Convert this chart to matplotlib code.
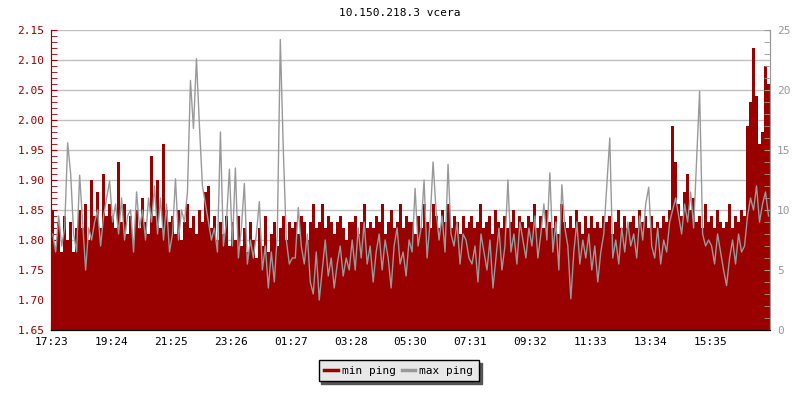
import numpy as np
import matplotlib
matplotlib.use("Agg")
import matplotlib.pyplot as plt
from matplotlib.ticker import MultipleLocator
from matplotlib.lines import Line2D

# time labels on x axis (one every 20 samples)
time_labels = ["17:23", "19:24", "21:25", "23:26", "01:27", "03:28",
               "05:30", "07:31", "09:32", "11:33", "13:34", "15:35"]

# min ping (left axis), 20 samples per label interval
min_ping = [
    1.85, 1.79, 1.83, 1.78, 1.84, 1.80, 1.83, 1.78, 1.82, 1.85, 1.82, 1.86, 1.80, 1.90, 1.84, 1.88, 1.82, 1.91, 1.84, 1.86,
    1.84, 1.82, 1.93, 1.83, 1.86, 1.81, 1.84, 1.80, 1.85, 1.82, 1.87, 1.83, 1.81, 1.94, 1.84, 1.90, 1.82, 1.96, 1.85, 1.83,
    1.84, 1.81, 1.85, 1.80, 1.83, 1.86, 1.82, 1.84, 1.81, 1.85, 1.83, 1.88, 1.89, 1.82, 1.84, 1.80, 1.83, 1.81, 1.84, 1.79,
    1.83, 1.80, 1.84, 1.79, 1.82, 1.78, 1.83, 1.80, 1.77, 1.82, 1.79, 1.84, 1.78, 1.81, 1.83, 1.79, 1.82, 1.84, 1.80, 1.83,
    1.82, 1.83, 1.81, 1.84, 1.83, 1.80, 1.83, 1.86, 1.82, 1.83, 1.86, 1.82, 1.84, 1.83, 1.81, 1.83, 1.84, 1.82, 1.80, 1.83,
    1.83, 1.84, 1.81, 1.83, 1.86, 1.82, 1.83, 1.82, 1.84, 1.83, 1.86, 1.81, 1.83, 1.85, 1.82, 1.83, 1.86, 1.82, 1.84, 1.83,
    1.83, 1.81, 1.84, 1.82, 1.86, 1.83, 1.82, 1.86, 1.84, 1.82, 1.85, 1.83, 1.86, 1.82, 1.84, 1.83, 1.81, 1.84, 1.82, 1.83,
    1.84, 1.82, 1.83, 1.86, 1.82, 1.83, 1.84, 1.81, 1.85, 1.83, 1.82, 1.84, 1.82, 1.83, 1.85, 1.82, 1.84, 1.83, 1.82, 1.84,
    1.83, 1.86, 1.82, 1.84, 1.82, 1.85, 1.83, 1.82, 1.84, 1.81, 1.86, 1.83, 1.82, 1.84, 1.82, 1.85, 1.83, 1.81, 1.84, 1.82,
    1.84, 1.82, 1.83, 1.82, 1.84, 1.83, 1.84, 1.81, 1.83, 1.85, 1.82, 1.84, 1.82, 1.83, 1.84, 1.82, 1.85, 1.83, 1.84, 1.82,
    1.84, 1.82, 1.83, 1.82, 1.84, 1.83, 1.85, 1.99, 1.93, 1.86, 1.84, 1.88, 1.91, 1.85, 1.87, 1.83, 1.84, 1.82, 1.86, 1.83,
    1.84, 1.82, 1.85, 1.83, 1.82, 1.83, 1.86, 1.82, 1.84, 1.83, 1.85, 1.84, 1.99, 2.03, 2.12, 2.04, 1.96, 1.98, 2.09, 2.06,
]

# max ping (right axis)
max_ping = [
    8.0, 6.5, 9.5, 7.0, 8.5, 15.6, 13.0, 8.0, 6.5, 12.9, 9.0, 5.0, 8.5, 7.5, 9.0, 10.0, 7.0, 9.5, 11.0, 12.4,
    9.0, 10.5, 8.0, 11.0, 7.5, 9.5, 10.0, 6.5, 11.5, 8.5, 10.0, 7.5, 11.0, 9.0, 12.0, 8.0, 11.0, 7.5, 10.5, 6.5,
    8.0, 12.6, 7.5, 10.0, 9.0, 11.5, 20.8, 16.8, 22.6, 17.0, 12.0, 10.5, 9.0, 7.5, 8.5, 6.5, 16.5, 7.0, 9.0, 13.4,
    7.0, 13.5, 6.0, 8.5, 12.2, 5.5, 7.5, 6.0, 8.0, 10.7, 5.0, 7.0, 3.5, 6.5, 4.0, 8.0, 24.2, 15.0, 7.5, 5.5,
    6.0, 6.0, 10.2, 7.0, 5.5, 8.0, 4.0, 3.0, 6.5, 2.5, 5.0, 7.5, 4.5, 6.0, 3.5, 5.5, 7.0, 4.5, 6.0, 5.0,
    7.5, 5.0, 8.5, 6.0, 9.0, 5.5, 7.0, 4.0, 6.5, 8.0, 5.0, 7.5, 6.0, 3.5, 7.0, 8.5, 5.5, 6.5, 4.5, 7.5,
    6.5, 11.8, 7.0, 8.5, 12.5, 6.0, 9.0, 14.0, 10.0, 7.5, 9.5, 6.5, 13.8, 8.0, 7.0, 9.0, 5.5, 8.0, 7.5, 6.0,
    5.5, 7.0, 4.0, 8.0, 6.5, 5.0, 7.5, 3.5, 6.0, 8.5, 5.0, 7.0, 12.5, 6.5, 8.0, 5.5, 9.0, 7.5, 6.0, 8.5,
    7.0, 9.5, 6.0, 8.0, 10.5, 7.5, 13.1, 6.5, 9.0, 5.0, 12.1, 8.5, 7.0, 2.6, 6.5, 9.0, 5.5, 7.5, 6.0, 8.0,
    5.0, 7.0, 4.0, 6.5, 8.0, 12.0, 16.0, 6.0, 7.5, 5.5, 8.5, 6.5, 9.0, 7.0, 8.0, 6.0, 9.5, 7.5, 10.5, 11.9,
    7.0, 6.0, 8.5, 5.5, 7.5, 6.5, 9.0, 10.0, 11.0, 9.5, 8.0, 10.5, 9.0, 11.5, 8.5, 14.3, 19.9, 8.0, 7.0, 7.5,
    7.0, 5.5, 8.0, 6.5, 5.0, 3.7, 6.0, 7.5, 5.5, 8.0, 6.5, 7.0, 9.5, 11.0, 10.0, 12.0, 9.0, 10.5, 11.5, 9.5,
]

RED = "#990000"
GRAY = "#999999"
plt.rcParams["font.family"] = "DejaVu Sans Mono"
plt.rcParams["font.size"] = 8

n = len(min_ping)
x = np.arange(n + 1)

fig = plt.figure(figsize=(8, 4), dpi=100)
ax = fig.add_axes([0.064, 0.175, 0.8985, 0.75])
ax.set_axisbelow(True)
ax.yaxis.grid(True, color="#c0c0c0", lw=1)

ax.fill_between(x, np.append(min_ping, min_ping[-1]), 1.65, step="post",
                color=RED, lw=0)

ax2 = ax.twinx()
ax2.plot(np.arange(n) + 0.5, max_ping, color=GRAY, lw=1)

ax.set_xlim(0, n)
ax.set_ylim(1.65, 2.15)
ax2.set_ylim(0, 25)

ax.set_xticks(np.arange(0, n, n // len(time_labels)))
ax.set_xticklabels(time_labels)
ax.yaxis.set_major_locator(MultipleLocator(0.05))
ax.yaxis.set_minor_locator(MultipleLocator(0.01))
ax.yaxis.set_major_formatter(plt.FormatStrFormatter("%.2f"))
ax2.yaxis.set_major_locator(MultipleLocator(5))
ax2.yaxis.set_minor_locator(MultipleLocator(1))

ax.tick_params(axis="y", which="both", direction="in", length=4, color=RED,
               labelcolor=RED, pad=5)
ax.tick_params(axis="x", direction="in", length=4, color="black", pad=5)
ax2.tick_params(axis="y", which="both", direction="in", length=4, color=GRAY,
                labelcolor=GRAY, pad=5)

for a in (ax, ax2):
    a.spines["top"].set_visible(False)
    a.spines["left"].set_color(RED)
    a.spines["right"].set_color(GRAY)
    a.spines["bottom"].set_color("black")

fig.text(0.5, 0.967, "10.150.218.3 vcera", ha="center", va="center", fontsize=8)

handles = [Line2D([], [], color=RED, lw=2.5), Line2D([], [], color=GRAY, lw=2.5)]
leg = fig.legend(handles, ["min ping", "max ping"], loc="center",
                 bbox_to_anchor=(0.4985, 0.073), ncol=2, frameon=True,
                 fancybox=False, shadow={"color": "#555555", "alpha": 1},
                 handlelength=1.2, handletextpad=0.4, columnspacing=0.5,
                 borderpad=0.5, fontsize=8)
leg.get_frame().set_facecolor("#e8e8e8")
leg.get_frame().set_edgecolor("black")
leg.get_frame().set_alpha(1)

fig.savefig("out.png", dpi=100, facecolor="white")
